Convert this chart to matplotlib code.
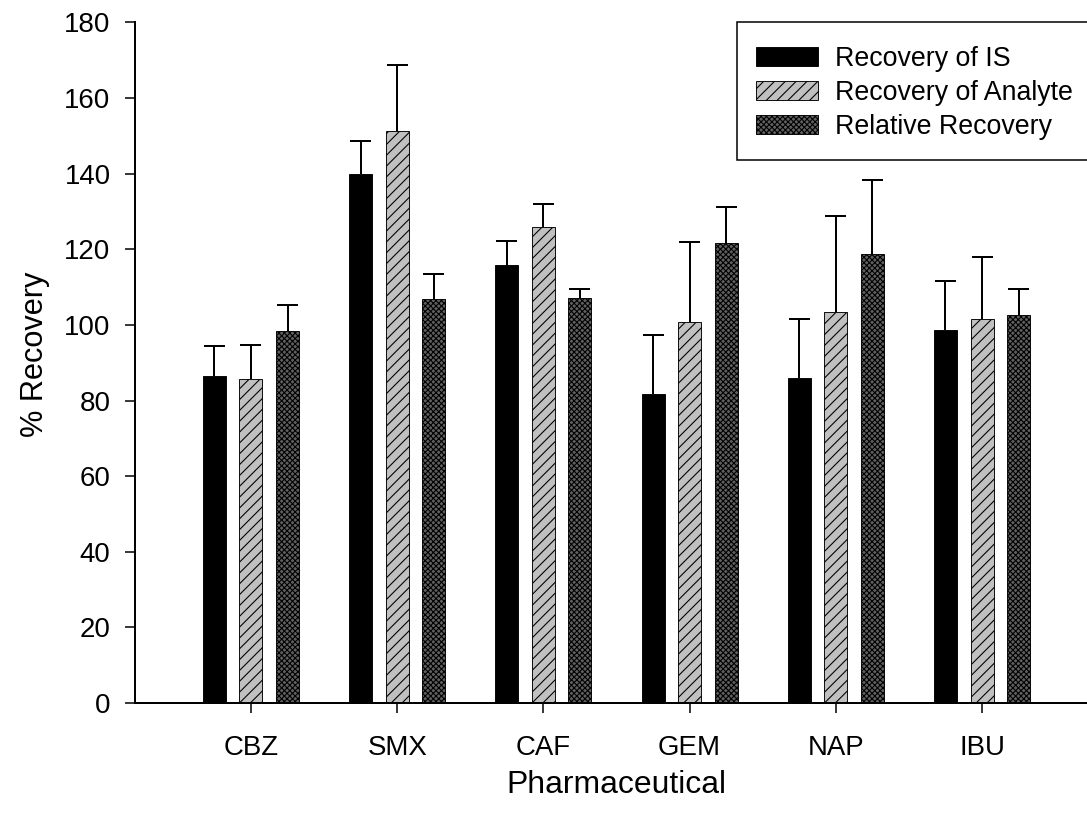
import numpy as np
import matplotlib
matplotlib.use("Agg")
import matplotlib.pyplot as plt
from matplotlib.patches import Rectangle

categories = ["CBZ", "SMX", "CAF", "GEM", "NAP", "IBU"]
series_names = ["Recovery of IS", "Recovery of Analyte", "Relative Recovery"]
rec_is = [86.5, 139.8, 115.9, 81.7, 85.9, 98.7]
rec_is_err = [7.9, 8.9, 6.3, 15.6, 15.7, 12.8]
rec_analyte = [85.8, 151.4, 126.0, 100.8, 103.4, 101.7]
rec_analyte_err = [8.9, 17.3, 6.0, 21.1, 25.4, 16.3]
rel_rec = [98.5, 106.8, 107.1, 121.7, 118.8, 102.5]
rel_rec_err = [6.9, 6.7, 2.3, 9.5, 19.6, 7.0]
yticks = [0, 20, 40, 60, 80, 100, 120, 140, 160, 180]

DPI = 130
W, H = 1087, 818
plt.rcParams['font.family'] = ['Liberation Sans', 'DejaVu Sans']
plt.rcParams['hatch.linewidth'] = 0.6
plt.rcParams['hatch.color'] = 'black'

fig = plt.figure(figsize=(W / DPI, H / DPI), dpi=DPI)
ax_left, ax_right, ax_top, ax_bottom = 135, 1098, 22.5, 703
ax = fig.add_axes([ax_left / W, 1 - ax_bottom / H, (ax_right - ax_left) / W, (ax_bottom - ax_top) / H])

x = np.arange(len(categories))
width = 0.157
offset = 0.25
styles = [
    dict(color='black', hatch=None),
    dict(color='#c0c0c0', hatch='////'),
    dict(color='#606060', hatch='xxxxxxxx'),
]
vals = [rec_is, rec_analyte, rel_rec]
errs = [rec_is_err, rec_analyte_err, rel_rec_err]
cap_half = 0.072
handles = []
for i, (v, e, st, name) in enumerate(zip(vals, errs, styles, series_names)):
    xs = x + (i - 1) * offset
    v = np.array(v)
    e = np.array(e)
    ax.vlines(xs, v, v + e, colors='black', linewidth=1.1, zorder=1)
    ax.hlines(v + e, xs - cap_half, xs + cap_half, colors='black', linewidth=1.1, zorder=1)
    b = ax.bar(xs, v, width, color=st['color'], hatch=st['hatch'], edgecolor='black',
               linewidth=0.5, label=name, zorder=2)
    handles.append(b)

ax.set_xlim(-0.793, 5.793)
ax.set_ylim(0, 180)
ax.set_yticks(yticks)
ax.set_xticks(x)
ax.set_xticklabels(categories)
ax.spines['top'].set_visible(False)
ax.spines['right'].set_visible(False)
for s in ['left', 'bottom']:
    ax.spines[s].set_linewidth(1.1)
ax.tick_params(axis='both', direction='out', length=5.5, width=0.85, labelsize=15.3)
ax.tick_params(axis='y', pad=8)
ax.tick_params(axis='x', pad=12)

ax.set_ylabel('% Recovery', fontsize=17, va='center')
ax.yaxis.set_label_coords(-0.1038, 0.513)
ax.set_xlabel('Pharmaceutical', fontsize=17.7, va='center')
ax.xaxis.set_label_coords(0.5, -0.12)

# legend frame (square, black) extending past the right edge of the figure
frame = Rectangle((737 / W, 1 - 160 / H), (1100 - 737) / W, (160 - 22) / H,
                  transform=fig.transFigure, facecolor='white', edgecolor='black',
                  linewidth=0.85, zorder=5)
fig.patches.append(frame)

leg = fig.legend(handles, series_names, loc='upper left', bbox_to_anchor=(756 / W, 1 - 46 / H),
                 bbox_transform=fig.transFigure, borderaxespad=0, fontsize=14.8,
                 handlelength=2.33, handleheight=0.69, handletextpad=0.64,
                 borderpad=0, labelspacing=0.3, frameon=False)
leg.set_zorder(6)

fig.savefig('out.png', dpi=DPI)
